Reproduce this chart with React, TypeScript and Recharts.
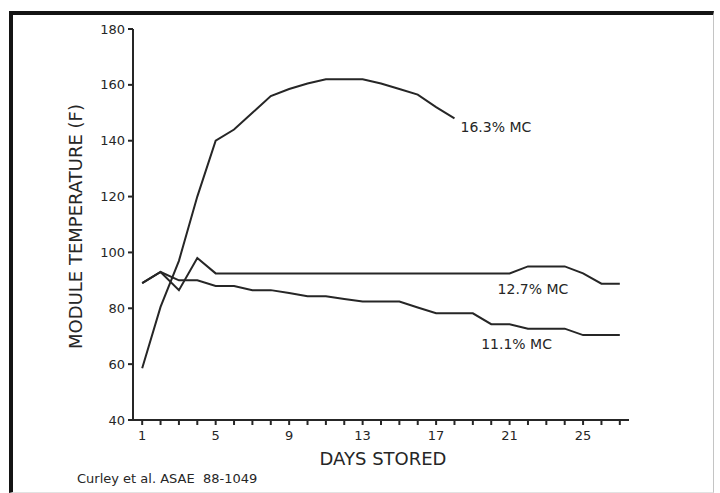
import React from 'react';
import { LineChart, Line, XAxis, YAxis } from 'recharts';

const days = [1, 2, 3, 4, 5, 6, 7, 8, 9, 10, 11, 12, 13, 14, 15, 16, 17, 18, 19, 20, 21, 22, 23, 24, 25, 26, 27];
const xLabelTicks = [1, 5, 9, 13, 17, 21, 25];
const yTicks = [40, 60, 80, 100, 120, 140, 160, 180];

const mc163 = [58.5, 80.5, 97, 120, 140, 144, 150, 156, 158.5, 160.5, 162, 162, 162, 160.5, 158.5, 156.5, 152, 148];
const mc127 = [89, 93, 86.5, 98, 92.5, 92.5, 92.5, 92.5, 92.5, 92.5, 92.5, 92.5, 92.5, 92.5, 92.5, 92.5, 92.5, 92.5, 92.5, 92.5, 92.5, 95, 95, 95, 92.5, 88.8, 88.8];
const mc111 = [89, 93, 90, 90, 88, 88, 86.5, 86.5, 85.5, 84.3, 84.3, 83.3, 82.4, 82.4, 82.4, 80.3, 78.2, 78.2, 78.2, 74.3, 74.3, 72.7, 72.7, 72.7, 70.4, 70.4, 70.4];

const seriesNames = ['16.3% MC', '12.7% MC', '11.1% MC'];

const data = days.map((d, i) => ({
  day: d,
  a: i < mc163.length ? mc163[i] : null,
  b: mc127[i],
  c: mc111[i],
}));

const INK = '#262626';
const FONT = '"DejaVu Sans", Arial, sans-serif';

const makeLabel = (idx: number, text: string, dx: number, dy: number, anchor: string) =>
  (props: any) => {
    if (props.index !== idx) return <g />;
    return (
      <text
        x={props.x + dx}
        y={props.y + dy}
        textAnchor={anchor}
        dominantBaseline="central"
        fontFamily={FONT}
        fontSize={14}
        fill={INK}
      >
        {text}
      </text>
    );
  };

export default function App() {
  return (
    <div style={{ position: 'absolute', left: 0, top: 0, width: 720, height: 493, background: '#fff', overflow: 'hidden' }}>
      <div
        style={{
          position: 'absolute',
          left: 9,
          top: 11,
          width: 705,
          height: 482,
          boxSizing: 'border-box',
          borderLeft: '4px solid #141414',
          borderTop: '4px solid #141414',
          borderRight: '1px solid #c4c4c4',
          borderBottom: '1px solid #e2e2e2',
        }}
      />
      <div style={{ position: 'absolute', left: 0, top: 0 }}>
        <LineChart width={720} height={493} data={data} margin={{ top: 29, right: 91, left: 73, bottom: 43 }}>
          <XAxis
            dataKey="day"
            type="number"
            domain={[0.5, 27.5]}
            ticks={days}
            interval={0}
            allowDataOverflow
            height={30}
            tickSize={5}
            tickMargin={6}
            stroke={INK}
            strokeWidth={2}
            tick={{ fill: INK, fontSize: 13, fontFamily: FONT }}
            tickFormatter={(v: number) => (xLabelTicks.includes(v) ? String(v) : '')}
            label={{
              content: (p: any) => (
                <text
                  x={p.viewBox.x + p.viewBox.width / 2 + 2}
                  y={458}
                  textAnchor="middle"
                  dominantBaseline="central"
                  fontFamily={FONT}
                  fontSize={18}
                  fill={INK}
                >
                  DAYS STORED
                </text>
              ),
            }}
          />
          <XAxis
            xAxisId="top"
            orientation="top"
            type="number"
            domain={[0.5, 27.5]}
            height={0}
            tick={false}
            tickLine={false}
            stroke={INK}
            strokeWidth={2}
          />
          <YAxis
            type="number"
            domain={[40, 180]}
            ticks={yTicks}
            interval={0}
            width={60}
            tickSize={5}
            tickMargin={3}
            stroke={INK}
            strokeWidth={2}
            tick={{ fill: INK, fontSize: 13, fontFamily: FONT }}
            label={{
              content: (p: any) => (
                <text
                  x={75}
                  y={p.viewBox.y + p.viewBox.height / 2 + 2}
                  textAnchor="middle"
                  dominantBaseline="central"
                  transform={`rotate(-90, 75, ${p.viewBox.y + p.viewBox.height / 2 + 2})`}
                  fontFamily={FONT}
                  fontSize={18}
                  fill={INK}
                >
                  MODULE TEMPERATURE (F)
                </text>
              ),
            }}
          />
          <YAxis
            yAxisId="right"
            orientation="right"
            type="number"
            domain={[40, 180]}
            width={0}
            tick={false}
            tickLine={false}
            stroke={INK}
            strokeWidth={2}
          />
          <Line
            dataKey="a"
            name={seriesNames[0]}
            type="linear"
            stroke={INK}
            strokeWidth={2}
            dot={false}
            connectNulls={false}
            isAnimationActive={false}
            label={makeLabel(17, seriesNames[0], 6, 9, 'start')}
          />
          <Line
            dataKey="b"
            name={seriesNames[1]}
            type="linear"
            stroke={INK}
            strokeWidth={2}
            dot={false}
            isAnimationActive={false}
            label={makeLabel(21, seriesNames[1], 5, 23, 'middle')}
          />
          <Line
            dataKey="c"
            name={seriesNames[2]}
            type="linear"
            stroke={INK}
            strokeWidth={2}
            dot={false}
            isAnimationActive={false}
            label={makeLabel(20, seriesNames[2], 7, 20, 'middle')}
          />
        </LineChart>
      </div>
      <div
        style={{
          position: 'absolute',
          left: 77,
          top: 470,
          fontFamily: FONT,
          fontSize: 13,
          color: INK,
          whiteSpace: 'pre',
          lineHeight: '18px',
        }}
      >
        {'Curley et al. ASAE  88-1049'}
      </div>
    </div>
  );
}
